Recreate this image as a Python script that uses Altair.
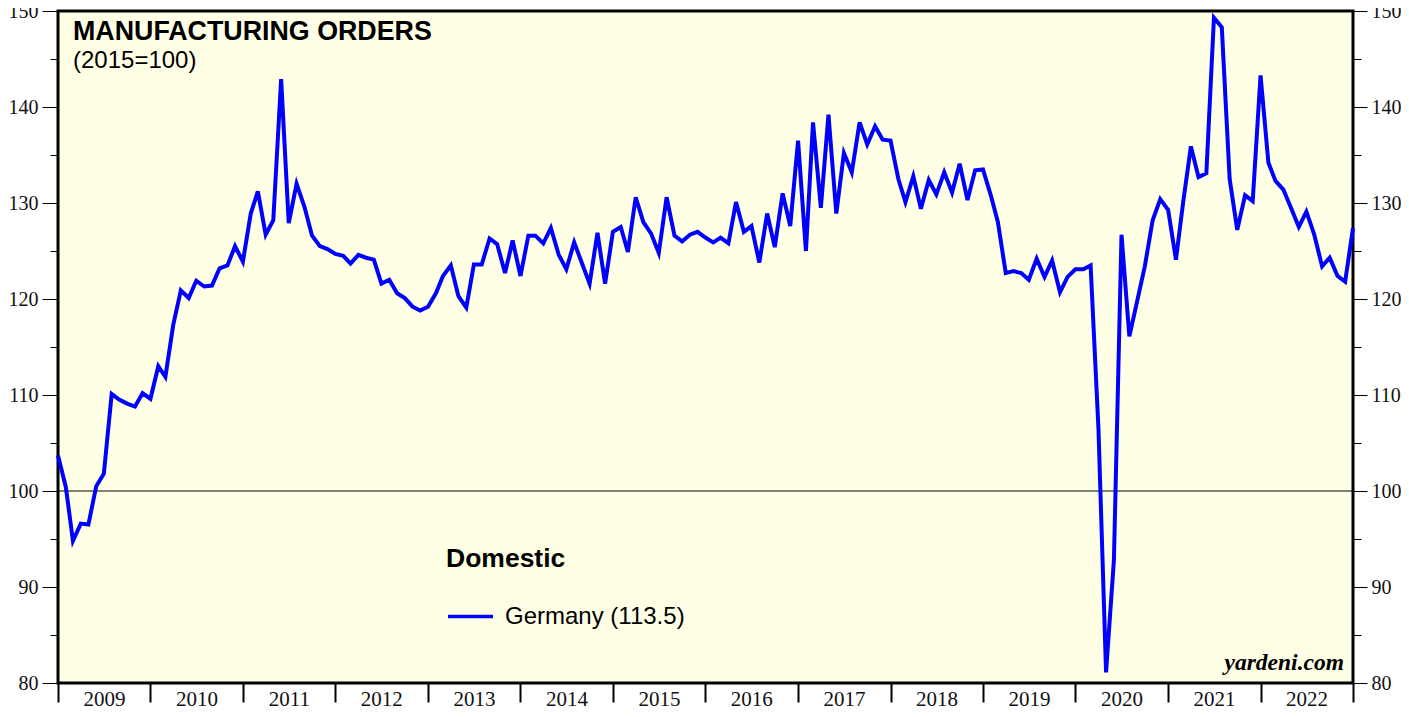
import altair as alt
import pandas as pd

# ---- data (monthly, Jan 2009 .. Jan 2023) ----
values = [
    103.7, 100.4, 94.8, 96.6, 96.5, 100.5, 101.8, 110.1, 109.5, 109.1, 108.8, 110.2,
    109.6, 113.0, 111.9, 117.3, 120.9, 120.1, 121.9, 121.3, 121.4, 123.2, 123.5, 125.5,
    123.9, 128.9, 131.2, 126.7, 128.2, 142.9, 127.9, 132.0, 129.6, 126.6, 125.5, 125.2,
    124.7, 124.5, 123.7, 124.6, 124.3, 124.1, 121.6, 122.0, 120.6, 120.1, 119.2, 118.8,
    119.2, 120.6, 122.4, 123.5, 120.3, 119.1, 123.6, 123.6, 126.3, 125.7, 122.7, 126.1,
    122.4, 126.6, 126.6, 125.8, 127.4, 124.6, 123.1, 125.9, 123.7, 121.6, 126.9, 121.6,
    127.0, 127.5, 124.9, 130.6, 128.0, 126.8, 124.8, 130.6, 126.6, 126.0, 126.7, 127.0,
    126.4, 125.9, 126.4, 125.8, 130.1, 127.0, 127.6, 123.8, 128.9, 125.4, 131.0, 127.6,
    136.5, 125.0, 138.4, 129.5, 139.2, 128.9, 135.2, 133.2, 138.4, 136.1, 138.0, 136.6,
    136.5, 132.5, 130.1, 132.8, 129.4, 132.4, 130.9, 133.2, 131.1, 134.1, 130.3, 133.4,
    133.5, 130.8, 128.0, 122.7, 122.9, 122.7, 122.0, 124.2, 122.3, 124.0, 120.7, 122.3,
    123.1, 123.1, 123.5, 106.5, 81.1, 92.8, 126.7, 116.1, 119.8, 123.4, 128.2, 130.4,
    129.3, 124.1, 130.0, 135.9, 132.7, 133.1, 149.3, 148.3, 132.5, 127.2, 130.8, 130.2,
    143.3, 134.2, 132.3, 131.4, 129.5, 127.5, 129.1, 126.7, 123.4, 124.3, 122.4, 121.8,
    127.4,
]
first_month = "2009-01-01"
series_name = "Germany (113.5)"
legend_title = "Domestic"
chart_title = "MANUFACTURING ORDERS"
chart_subtitle = "(2015=100)"
credit = "yardeni.com"
year_ticks = list(range(2009, 2024))
major_y = list(range(80, 151, 10))
minor_y = list(range(85, 150, 10))
reference_level = [100]

months = pd.date_range(first_month, periods=len(values), freq="MS")
df = pd.DataFrame({"date": months, "value": values, "series": series_name})
ref_df = pd.DataFrame({"ref": reference_level})

W, H = 1295, 672

yscale = alt.Scale(domain=[80, 150], nice=False, zero=False)
xscale = alt.Scale(
    domain=[alt.DateTime(year=2009, month=1, date=1), alt.DateTime(year=2023, month=1, date=1)],
    nice=False,
)

x_axis = alt.Axis(
    values=[alt.DateTime(year=y, month=1, date=1) for y in year_ticks],
    format="%Y",
    labelExpr="year(datum.value) >= 2023 ? '' : datum.label",
    labelOffset=46,
    labelBaseline="alphabetic",
    labelPadding=3,
    tickSize=19,
    tickWidth=2,
    tickColor="black",
    domain=False,
    grid=False,
    labelFont="Liberation Serif",
    labelFontSize=21,
    labelColor="#111111",
    labelFlush=False,
    labelOverlap=False,
    labelBound=False,
    title=None,
)
x_enc = alt.X("date:T", scale=xscale, axis=x_axis)


def yaxis(orient, vals, size, labels, pad=4):
    kw = dict(orient=orient, values=vals, tickSize=size, tickColor="black",
              tickWidth=1, domain=False, grid=False, title=None, labels=labels)
    if labels:
        kw.update(labelFont="Liberation Serif", labelFontSize=20, labelColor="#111111",
                  labelPadding=pad, format="d")
    return alt.Axis(**kw)


rule100 = alt.Chart(ref_df).mark_rule(color="black", strokeWidth=1).encode(
    y=alt.Y("ref:Q", scale=yscale, axis=yaxis("left", minor_y, 8, False))
)
right_major = alt.Chart(ref_df).mark_rule(strokeOpacity=0).encode(
    y=alt.Y("ref:Q", scale=yscale, axis=yaxis("right", major_y, 14, True, pad=4))
)
right_minor = alt.Chart(ref_df).mark_rule(strokeOpacity=0).encode(
    y=alt.Y("ref:Q", scale=yscale, axis=yaxis("right", minor_y, 8, False))
)

line = alt.Chart(df).mark_line(strokeWidth=4, strokeJoin="miter").encode(
    x=x_enc,
    y=alt.Y("value:Q", scale=yscale, axis=yaxis("left", major_y, 16, True, pad=4)),
    color=alt.Color(
        "series:N",
        scale=alt.Scale(range=["#0000FF"]),
        legend=alt.Legend(
            title=legend_title,
            orient="none",
            legendX=388,
            legendY=534.5,
            padding=0,
            titleFont="Liberation Sans",
            titleFontSize=26.5,
            titleFontWeight="bold",
            titleColor="black",
            titlePadding=20,
            titleLimit=400,
            labelFont="Liberation Sans",
            labelFontSize=24,
            labelColor="black",
            labelOffset=10,
            labelLimit=400,
            symbolType="stroke",
            symbolSize=2025,
            symbolStrokeWidth=3.5,
        ),
    ),
)


def label(text, x, y, size, weight="normal", font="Liberation Sans", align="left", style="normal"):
    return alt.Chart(pd.DataFrame({"t": [text]})).mark_text(
        align=align, baseline="alphabetic", font=font, fontSize=size,
        fontWeight=weight, fontStyle=style, color="black",
    ).encode(x=alt.value(x), y=alt.value(y), text="t:N")


title_t = label(chart_title, 15, 28.5, 26.8, weight="bold")
sub_t = label(chart_subtitle, 15, 56.5, 24)
credit_t = label(credit, 1286, 659, 23.5, weight="bold", font="Liberation Serif",
                 align="right", style="italic")

chart = (
    alt.layer(rule100, right_major, right_minor, line, title_t, sub_t, credit_t)
    .resolve_axis(y="independent")
    .properties(
        width=W,
        height=H,
        autosize=alt.AutoSizeParams(type="none"),
        padding={"left": 50, "top": 3, "right": 48, "bottom": 25},
        background="white",
    )
    .configure_view(fill="#FFFFE6", stroke="black", strokeWidth=3)
)

chart.save("out.html", embed_options={"renderer": "svg", "actions": False})
